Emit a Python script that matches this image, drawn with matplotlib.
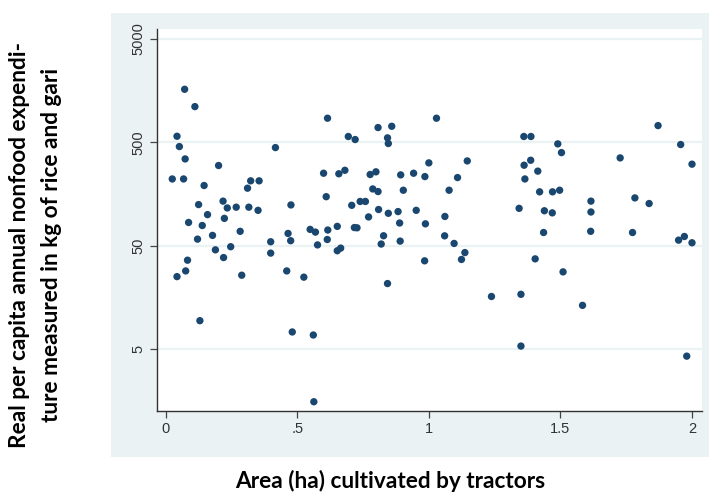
import matplotlib
matplotlib.use("Agg")
import matplotlib.pyplot as plt
from matplotlib.patches import Rectangle
import matplotlib.ticker as mticker

# Area (ha) cultivated by tractors
area = [0.025, 0.043, 0.052, 0.072, 0.074, 0.068, 0.111, 0.087, 0.121, 0.125,
        0.146, 0.139, 0.159, 0.178, 0.201, 0.218, 0.234, 0.223, 0.268, 0.283,
        0.316, 0.311, 0.323, 0.351, 0.355, 0.417, 0.399, 0.465, 0.476, 0.475,
        0.549, 0.569, 0.577, 0.615, 0.600, 0.610, 0.616, 0.614, 0.652, 0.658,
        0.681, 0.694, 0.720, 0.707, 0.739, 0.759, 0.717, 0.727, 0.771, 0.777,
        0.799, 0.787, 0.807, 0.807, 0.859, 0.843, 0.846, 0.809, 0.846, 0.883,
        0.828, 0.819, 0.889, 0.891, 0.893, 0.903, 0.942, 0.952,
        0.985, 1.000, 0.987, 1.029, 1.077, 1.061, 1.109, 1.146, 1.060, 1.096,
        1.343, 1.361, 1.388, 1.362, 1.387, 1.365, 1.414, 1.421, 1.439, 1.469,
        1.470, 1.497, 1.490, 1.504, 1.436, 1.616, 1.616, 1.615, 1.727, 1.783,
        1.837, 1.774, 1.871, 1.957, 2.000, 1.949, 1.971, 2.000,
        0.043, 0.076, 0.083, 0.130, 0.189, 0.220, 0.247, 0.289, 0.399, 0.460,
        0.481, 0.525, 0.561, 0.563, 0.652, 0.665, 0.843,
        0.984, 1.137, 1.124, 1.238, 1.350, 1.350, 1.404, 1.510, 1.584, 1.980]

# Real per capita annual nonfood expenditure (kg of rice and gari)
expend = [221, 571, 454, 1623, 345, 221, 1104, 84, 58, 125,
          191, 78.5, 100, 63, 298, 135, 116, 92, 118, 69,
          118, 180, 212, 110, 212, 444, 54.7, 65.8, 124, 56,
          72, 67.8, 51, 853, 251, 149, 71, 57.5, 77, 248,
          268, 568, 531, 123, 134, 134, 75, 74.6, 95, 244,
          259, 177, 167, 693, 713, 551, 486, 112, 103, 107,
          62.5, 52, 83, 55.5, 242, 172, 251, 110,
          233, 316, 81.5, 853, 172, 96, 228, 330, 62.4, 52.7,
          115, 568, 568, 300, 335, 221, 263, 166, 109, 104,
          166, 172, 482, 397, 67.2, 135, 106, 69, 353, 145,
          128, 67.2, 724, 475, 307, 56.7, 61.5, 53.5,
          25.2, 28.6, 36.3, 9.46, 45.7, 38.5, 49, 26, 42.5, 28.6,
          7.36, 24.9, 6.88, 1.56, 44.8, 47.5, 21.6,
          35.8, 43, 36.9, 16.2, 17, 5.38, 37.4, 28, 13.3, 4.3]

xticks = [0, 0.5, 1, 1.5, 2]
xticklabels = ["0", ".5", "1", "1.5", "2"]
yticks = [5, 50, 500, 5000]
yticklabels = ["5", "50", "500", "5000"]

xlabel = "Area (ha) cultivated by tractors"
ylabel_lines = ["Real per capita annual nonfood expendi-",
                "ture measured in kg of rice and gari"]

W, H = 710, 494
fig = plt.figure(figsize=(W / 100, H / 100), dpi=100)
fig.patch.set_facecolor("white")

region_color = "#eaf2f3"
fig.patches.append(Rectangle((111 / W, 1 - 457 / H), (709 - 111) / W, (457 - 13) / H,
                             transform=fig.transFigure, facecolor=region_color,
                             edgecolor="none", zorder=-5))

ax = fig.add_axes([157 / W, 1 - 411 / H, (702 - 157) / W, (411 - 29) / H])
ax.set_zorder(2)
ax.set_facecolor("white")
ax.set_yscale("log")
ax.set_xlim(-0.033, 2.038)
ax.set_ylim(1.27, 6200)

for yt in yticks:
    ax.axhline(yt, color=region_color, lw=1.6, zorder=1)

ax.scatter(area, expend, s=28, color="#1a476f", edgecolors="none", zorder=3)

ax.set_xticks(xticks)
ax.set_xticklabels(xticklabels)
ax.set_yticks(yticks)
ax.set_yticklabels(yticklabels, rotation=90, va="center")
ax.yaxis.set_minor_locator(mticker.NullLocator())
ax.tick_params(axis="both", which="major", direction="out", length=5,
               width=0.9, color="#444444", labelcolor="#333333",
               labelsize=10.5, pad=3)
for lab in ax.get_xticklabels() + ax.get_yticklabels():
    lab.set_family("Liberation Sans")

for side in ["top", "right"]:
    ax.spines[side].set_visible(False)
for side in ["left", "bottom"]:
    ax.spines[side].set_color("#333333")
    ax.spines[side].set_linewidth(1.0)

lab_font = dict(family="Lato", weight="bold", size=16.3, color="black")
fig.text(390 / W, 1 - 481 / H, xlabel, ha="center", va="center", **lab_font)
fig.text(20 / W, 1 - 245 / H, ylabel_lines[0], rotation=90, ha="center", va="center", **lab_font)
fig.text(52 / W, 1 - 245 / H, ylabel_lines[1], rotation=90, ha="center", va="center", **lab_font)

fig.savefig("out.png", dpi=100, facecolor="white")
